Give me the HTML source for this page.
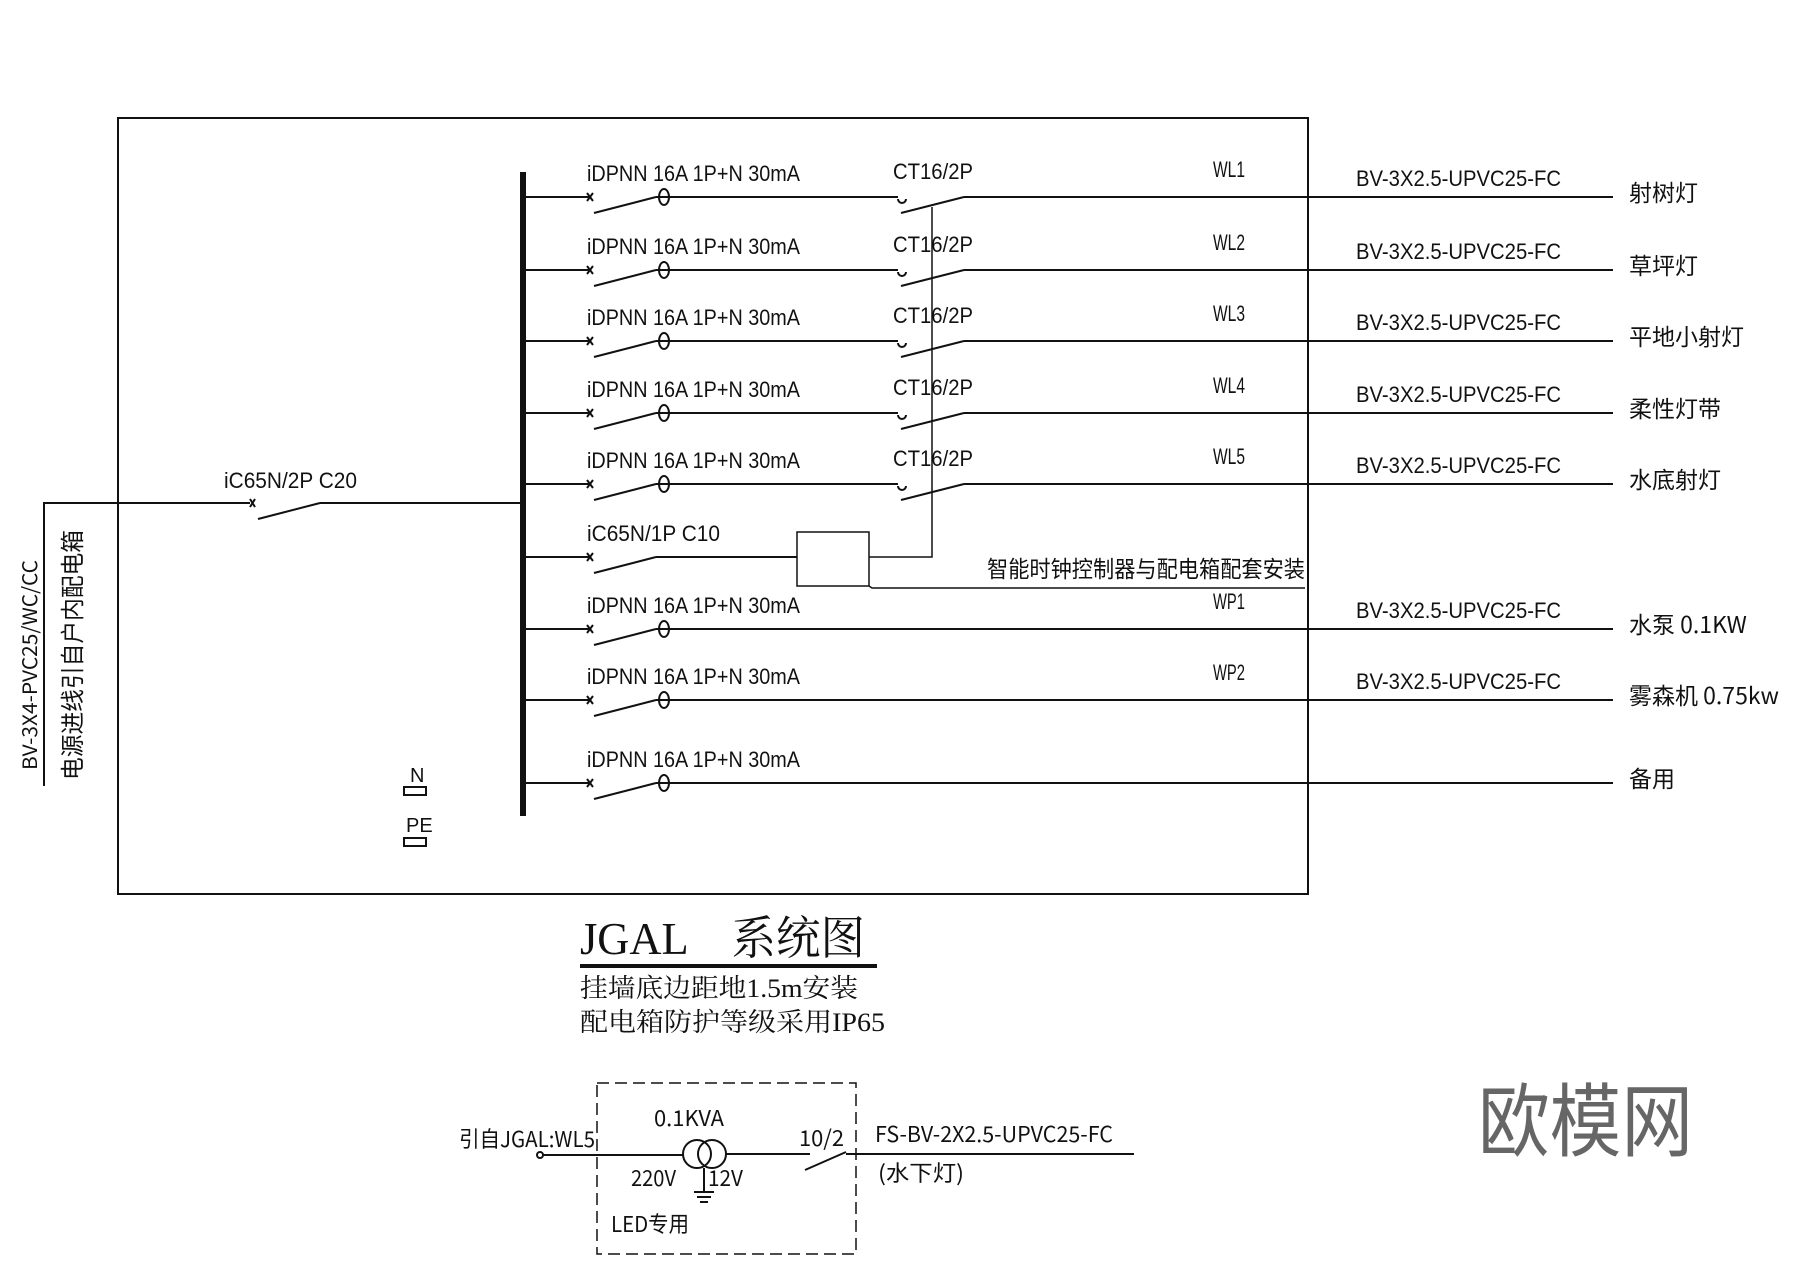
<!DOCTYPE html>
<html><head><meta charset="utf-8"><style>
html,body{margin:0;padding:0;background:#fff}
svg{display:block}
text{font-family:"Liberation Sans","Noto Sans CJK SC",sans-serif;fill:#111}
.c{font-family:"Noto Sans CJK SC","WenQuanYi Zen Hei",sans-serif}
.s{font-family:"Liberation Serif","Noto Serif CJK SC",serif}
</style></head><body>
<svg width="1800" height="1273" viewBox="0 0 1800 1273" xmlns="http://www.w3.org/2000/svg">
<g stroke="#111" fill="none" stroke-width="2">
<rect x="118" y="118" width="1190" height="776"/>
<line x1="523" y1="172" x2="523" y2="816" stroke-width="6"/>
<!-- incoming -->
<polyline points="44,786 44,503 250,503"/>
<path d="M250,499 l5,8 M255,499 l-5,8"/>
<line x1="258" y1="519" x2="320" y2="503"/>
<line x1="320" y1="503" x2="523" y2="503"/>
<!-- N/PE -->
<rect x="404" y="787" width="22" height="8"/>
<rect x="404" y="838" width="22" height="8"/>
</g>
<g stroke="#111" fill="none" stroke-width="2">
<!-- CT rows -->
<g id="r1">
<line x1="523" y1="197" x2="590" y2="197"/><path d="M587,193 l6,8 M593,193 l-6,8"/>
<line x1="594" y1="213" x2="656" y2="197"/><ellipse cx="664" cy="197" rx="5" ry="8"/>
<line x1="656" y1="197" x2="898" y2="197"/><path d="M898,199 a4,4 0 0 0 8,0"/>
<line x1="901" y1="213" x2="964" y2="197"/><line x1="964" y1="197" x2="1613" y2="197"/>
</g>
<use href="#r1" y="73"/><use href="#r1" y="144"/><use href="#r1" y="216"/><use href="#r1" y="287"/>
<g id="r2">
<line x1="523" y1="629" x2="590" y2="629"/><path d="M587,625 l6,8 M593,625 l-6,8"/>
<line x1="594" y1="645" x2="656" y2="629"/><ellipse cx="664" cy="629" rx="5" ry="8"/>
<line x1="656" y1="629" x2="1613" y2="629"/>
</g>
<use href="#r2" y="71"/><use href="#r2" y="154"/>
<!-- controller row -->
<line x1="523" y1="557" x2="590" y2="557"/><path d="M587,553 l6,8 M593,553 l-6,8"/>
<line x1="594" y1="573" x2="656" y2="557"/>
<line x1="656" y1="557" x2="797" y2="557"/>
<rect x="797" y="532" width="72" height="54" stroke-width="1.5"/>
<polyline points="869,557 932,557 932,207" stroke-width="1.5"/>
<polyline points="869,586 872,588 1305,588" stroke-width="1.5"/>
<!-- bottom -->
<rect x="597" y="1083" width="259" height="171" stroke-dasharray="12,6" stroke-width="1.5"/>
<circle cx="540" cy="1155" r="3"/>
<line x1="543" y1="1155" x2="683" y2="1155"/>
<circle cx="697" cy="1154" r="14"/><circle cx="712" cy="1154" r="14"/>
<line x1="726" y1="1154" x2="810" y2="1154"/>
<line x1="805" y1="1170" x2="846" y2="1152"/>
<line x1="846" y1="1154" x2="1134" y2="1154"/>
<line x1="704" y1="1168" x2="704" y2="1192"/>
<line x1="694" y1="1192" x2="714" y2="1192"/><line x1="697" y1="1197" x2="711" y2="1197"/><line x1="700" y1="1202" x2="708" y2="1202"/>
<line x1="580" y1="966" x2="877" y2="966" stroke-width="4"/>
</g>
<g font-size="22">
<text x="224" y="488" textLength="133" lengthAdjust="spacingAndGlyphs">iC65N/2P C20</text>
<text x="587" y="181" textLength="213" lengthAdjust="spacingAndGlyphs">iDPNN 16A 1P+N 30mA</text>
<text x="587" y="254" textLength="213" lengthAdjust="spacingAndGlyphs">iDPNN 16A 1P+N 30mA</text>
<text x="587" y="325" textLength="213" lengthAdjust="spacingAndGlyphs">iDPNN 16A 1P+N 30mA</text>
<text x="587" y="397" textLength="213" lengthAdjust="spacingAndGlyphs">iDPNN 16A 1P+N 30mA</text>
<text x="587" y="468" textLength="213" lengthAdjust="spacingAndGlyphs">iDPNN 16A 1P+N 30mA</text>
<text x="587" y="541" textLength="133" lengthAdjust="spacingAndGlyphs">iC65N/1P C10</text>
<text x="587" y="613" textLength="213" lengthAdjust="spacingAndGlyphs">iDPNN 16A 1P+N 30mA</text>
<text x="587" y="684" textLength="213" lengthAdjust="spacingAndGlyphs">iDPNN 16A 1P+N 30mA</text>
<text x="587" y="767" textLength="213" lengthAdjust="spacingAndGlyphs">iDPNN 16A 1P+N 30mA</text>
<text x="893" y="179" textLength="80" lengthAdjust="spacingAndGlyphs">CT16/2P</text>
<text x="893" y="252" textLength="80" lengthAdjust="spacingAndGlyphs">CT16/2P</text>
<text x="893" y="323" textLength="80" lengthAdjust="spacingAndGlyphs">CT16/2P</text>
<text x="893" y="395" textLength="80" lengthAdjust="spacingAndGlyphs">CT16/2P</text>
<text x="893" y="466" textLength="80" lengthAdjust="spacingAndGlyphs">CT16/2P</text>
<text x="1213" y="177" textLength="32" lengthAdjust="spacingAndGlyphs">WL1</text>
<text x="1213" y="250" textLength="32" lengthAdjust="spacingAndGlyphs">WL2</text>
<text x="1213" y="321" textLength="32" lengthAdjust="spacingAndGlyphs">WL3</text>
<text x="1213" y="393" textLength="32" lengthAdjust="spacingAndGlyphs">WL4</text>
<text x="1213" y="464" textLength="32" lengthAdjust="spacingAndGlyphs">WL5</text>
<text x="1213" y="609" textLength="32" lengthAdjust="spacingAndGlyphs">WP1</text>
<text x="1213" y="680" textLength="32" lengthAdjust="spacingAndGlyphs">WP2</text>
<text x="1356" y="186" textLength="205" lengthAdjust="spacingAndGlyphs">BV-3X2.5-UPVC25-FC</text>
<text x="1356" y="259" textLength="205" lengthAdjust="spacingAndGlyphs">BV-3X2.5-UPVC25-FC</text>
<text x="1356" y="330" textLength="205" lengthAdjust="spacingAndGlyphs">BV-3X2.5-UPVC25-FC</text>
<text x="1356" y="402" textLength="205" lengthAdjust="spacingAndGlyphs">BV-3X2.5-UPVC25-FC</text>
<text x="1356" y="473" textLength="205" lengthAdjust="spacingAndGlyphs">BV-3X2.5-UPVC25-FC</text>
<text x="1356" y="618" textLength="205" lengthAdjust="spacingAndGlyphs">BV-3X2.5-UPVC25-FC</text>
<text x="1356" y="689" textLength="205" lengthAdjust="spacingAndGlyphs">BV-3X2.5-UPVC25-FC</text>
<text x="410" y="782" font-size="20">N</text>
<text x="406" y="832" font-size="20">PE</text>
</g>
<g font-size="23" class="c">
<text class="c" x="1629" y="201">射树灯</text>
<text class="c" x="1629" y="274">草坪灯</text>
<text class="c" x="1629" y="345">平地小射灯</text>
<text class="c" x="1629" y="417">柔性灯带</text>
<text class="c" x="1629" y="488">水底射灯</text>
<text class="c" x="1629" y="633">水泵 0.1KW</text>
<text class="c" x="1629" y="704">雾森机 0.75kw</text>
<text class="c" x="1629" y="787">备用</text>
<text class="c" x="987" y="577" textLength="318" lengthAdjust="spacingAndGlyphs">智能时钟控制器与配电箱配套安装</text>
<text class="c" x="0" y="0" transform="translate(37,770) rotate(-90)" font-size="20" textLength="210" lengthAdjust="spacingAndGlyphs">BV-3X4-PVC25/WC/CC</text>
<text class="c" x="0" y="0" transform="translate(81,780) rotate(-90)" font-size="24" textLength="250" lengthAdjust="spacingAndGlyphs">电源进线引自户内配电箱</text>
</g>
<text class="s" x="580" y="954" font-size="46" textLength="285" lengthAdjust="spacingAndGlyphs">JGAL　系统图</text>
<text class="s" x="580" y="997" font-size="26" textLength="278" lengthAdjust="spacingAndGlyphs">挂墙底边距地1.5m安装</text>
<text class="s" x="580" y="1031" font-size="26" textLength="305" lengthAdjust="spacingAndGlyphs">配电箱防护等级采用IP65</text>
<g font-size="22" class="c">
<text class="c" x="459" y="1147" textLength="136" lengthAdjust="spacingAndGlyphs">引自JGAL:WL5</text>
<text class="c" x="654" y="1126" textLength="70" lengthAdjust="spacingAndGlyphs">0.1KVA</text>
<text class="c" x="631" y="1186" textLength="45" lengthAdjust="spacingAndGlyphs">220V</text>
<text class="c" x="708" y="1186" textLength="35" lengthAdjust="spacingAndGlyphs">12V</text>
<text class="c" x="611" y="1232" textLength="78" lengthAdjust="spacingAndGlyphs">LED专用</text>
<text class="c" x="799" y="1146" textLength="45" lengthAdjust="spacingAndGlyphs">10/2</text>
<text class="c" x="875" y="1142" textLength="238" lengthAdjust="spacingAndGlyphs">FS-BV-2X2.5-UPVC25-FC</text>
<text class="c" x="878" y="1181" textLength="86" lengthAdjust="spacingAndGlyphs">(水下灯)</text>
</g>
<text class="c" x="1478" y="1150" font-size="80" style="fill:#666" textLength="215" lengthAdjust="spacingAndGlyphs">欧模网</text>
</svg>
</body></html>
